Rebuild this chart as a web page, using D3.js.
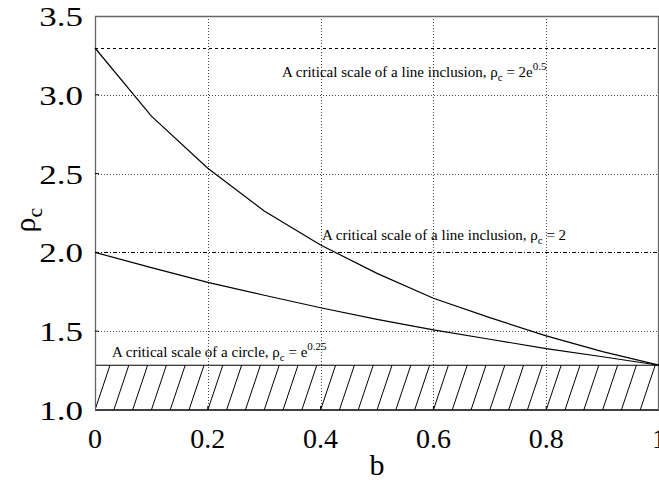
<!DOCTYPE html>
<html>
<head>
<meta charset="utf-8">
<script src="https://cdn.jsdelivr.net/npm/d3@7"></script>
<style>
  html, body { margin: 0; padding: 0; background: #fff; }
  svg { display: block; font-family: "Liberation Serif", "Times New Roman", serif; }
</style>
</head>
<body>
<svg id="chart" width="659" height="485"></svg>
<script>
// ---- data ----
const bValues = [0, 0.1, 0.2, 0.3, 0.4, 0.5, 0.6, 0.7, 0.8, 0.9, 1.0];
const upperCurve = [3.297, 2.865, 2.534, 2.263, 2.047, 1.867, 1.709, 1.586, 1.470, 1.370, 1.284];
const lowerCurve = [2.000, 1.903, 1.810, 1.728, 1.649, 1.575, 1.508, 1.449, 1.390, 1.338, 1.284];
const levelLine2e05 = 3.2974;   // 2e^0.5
const levelLine2 = 2.0;
const levelCircle = 1.2840;     // e^0.25
const xTicks = [0, 0.2, 0.4, 0.6, 0.8, 1];
const xTickLabels = ["0", "0.2", "0.4", "0.6", "0.8", "1"];
const yTicks = [1.0, 1.5, 2.0, 2.5, 3.0, 3.5];
const yTickLabels = ["1.0", "1.5", "2.0", "2.5", "3.0", "3.5"];

// ---- layout ----
const L = 95, R = 659, T = 16, B = 410;
const svg = d3.select("#chart");
const x = d3.scaleLinear().domain([0, 1]).range([L, R]);
const y = d3.scaleLinear().domain([1, 3.5]).range([B, T]);

svg.append("defs").append("clipPath").attr("id", "clip")
  .append("rect").attr("x", L).attr("y", T).attr("width", R - L).attr("height", B - T);

// grid
const grid = svg.append("g").attr("stroke", "#444").attr("stroke-width", 1).attr("stroke-dasharray", "1,2");
grid.selectAll("line.gx").data(xTicks.filter(d => d > 0 && d < 1)).join("line")
  .attr("x1", d => Math.round(x(d)) + 0.5).attr("x2", d => Math.round(x(d)) + 0.5)
  .attr("y1", T).attr("y2", B);
grid.selectAll("line.gy").data(yTicks.filter(d => d > 1 && d < 3.5)).join("line")
  .attr("y1", d => Math.round(y(d)) + 0.5).attr("y2", d => Math.round(y(d)) + 0.5)
  .attr("x1", L).attr("x2", R);

// hatch region
const hatch = svg.append("g").attr("clip-path", "url(#clip)");
const hatchTop = y(levelCircle), hatchBot = y(1);
const hatchStarts = d3.range(0, 30).map(k => k / 30);
hatch.selectAll("line").data(hatchStarts).join("line")
  .attr("x1", d => x(d)).attr("y1", hatchBot)
  .attr("x2", d => x(d) + 15).attr("y2", hatchTop)
  .attr("stroke", "#000").attr("stroke-width", 1);

// level lines
svg.append("line").attr("x1", L).attr("x2", R)
  .attr("y1", Math.round(y(levelLine2e05)) + 0.5).attr("y2", Math.round(y(levelLine2e05)) + 0.5)
  .attr("stroke", "#000").attr("stroke-dasharray", "3,3");
svg.append("line").attr("x1", L).attr("x2", R)
  .attr("y1", Math.round(y(levelLine2)) + 0.5).attr("y2", Math.round(y(levelLine2)) + 0.5)
  .attr("stroke", "#000").attr("stroke-dasharray", "4,2,1,2");
svg.append("line").attr("x1", L).attr("x2", R)
  .attr("y1", y(levelCircle)).attr("y2", y(levelCircle))
  .attr("stroke", "#000").attr("stroke-width", 1.2);
svg.append("line").attr("x1", L).attr("x2", R)
  .attr("y1", y(1)).attr("y2", y(1))
  .attr("stroke", "#000").attr("stroke-width", 1.5);

// frame
svg.append("path")
  .attr("d", `M${L + 0.5},${B}V${T + 0.5}H${R - 0.5}V${B}`)
  .attr("fill", "none").attr("stroke", "#666").attr("stroke-width", 1.3);

// ticks
svg.append("g").selectAll("line").data(yTicks.filter(d => d > 1 && d < 3.5)).join("line")
  .attr("x1", L).attr("x2", L + 4).attr("y1", d => y(d)).attr("y2", d => y(d))
  .attr("stroke", "#000");
svg.append("g").selectAll("line").data(xTicks.filter(d => d > 0 && d < 1)).join("line")
  .attr("x1", d => x(d)).attr("x2", d => x(d)).attr("y1", B).attr("y2", B - 4)
  .attr("stroke", "#000");

// curves
const line = d3.line().x((d, i) => x(bValues[i])).y(d => y(d));
svg.append("path").datum(upperCurve).attr("d", line)
  .attr("fill", "none").attr("stroke", "#000").attr("stroke-width", 1.2);
svg.append("path").datum(lowerCurve).attr("d", line)
  .attr("fill", "none").attr("stroke", "#000").attr("stroke-width", 1.2);

// tick labels
svg.append("g").selectAll("text").data(xTicks).join("text")
  .attr("x", d => x(d)).attr("y", 448)
  .attr("text-anchor", "middle").attr("font-size", 28)
  .text((d, i) => xTickLabels[i]);
svg.append("g").selectAll("text").data(yTicks).join("text")
  .attr("transform", d => `translate(83,${y(d) + 10}) scale(1.25,1)`)
  .attr("text-anchor", "end").attr("font-size", 28)
  .text((d, i) => yTickLabels[i]);

// axis titles
svg.append("text").attr("x", x(0.5)).attr("y", 475).attr("text-anchor", "middle")
  .attr("font-size", 30).text("b");
const yt = svg.append("text").attr("transform", "translate(35,220) rotate(-90)")
  .attr("text-anchor", "middle").attr("font-size", 30);
yt.append("tspan").text("ρ");
yt.append("tspan").attr("font-size", 22).attr("dy", 7).text("c");

// annotations
function annot(px, py, main, tail, sup) {
  const t = svg.append("text").attr("x", px).attr("y", py).attr("font-size", 15);
  t.append("tspan").text(main + "ρ");
  t.append("tspan").attr("font-size", 11).attr("dy", 4).text("c");
  t.append("tspan").attr("dy", -4).text(" = " + tail);
  if (sup) t.append("tspan").attr("font-size", 11).attr("dy", -7).text(sup);
}
annot(282, 77, "A critical scale of a line inclusion, ", "2e", "0.5");
annot(322, 240, "A critical scale of a line inclusion, ", "2", null);
annot(112, 357, "A critical scale of a circle, ", "e", "0.25");
</script>
</body>
</html>
